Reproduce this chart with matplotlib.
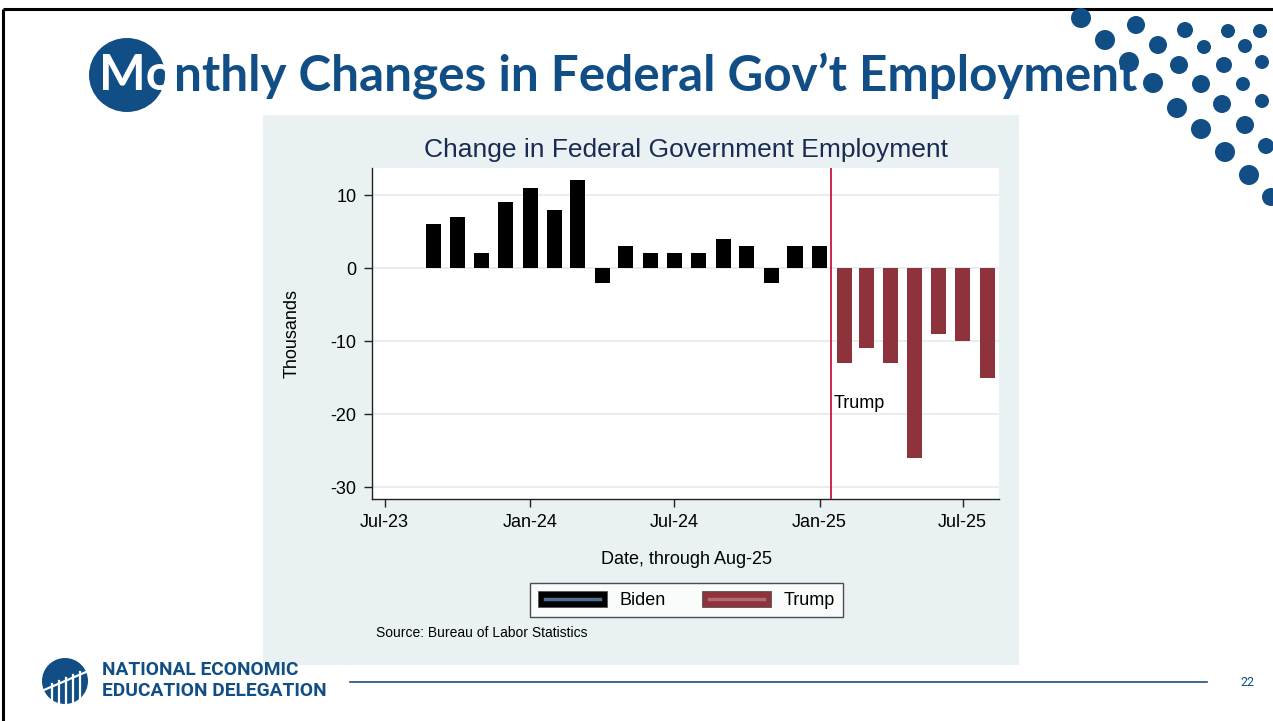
import matplotlib
matplotlib.use("Agg")
import matplotlib.pyplot as plt
from matplotlib.patches import Rectangle, Ellipse, Circle
from matplotlib.lines import Line2D
from matplotlib.legend_handler import HandlerBase
import pandas as pd

# ---- data (thousands, monthly change in federal government employment) ----
biden_months = pd.date_range("2023-09-01", "2025-01-01", freq="MS")
biden_values = [6, 7, 2, 9, 11, 8, 12, -2, 3, 2, 2, 2, 4, 3, -2, 3, 3]
trump_months = pd.date_range("2025-02-01", "2025-08-01", freq="MS")
trump_values = [-13, -11, -13, -26, -9, -10, -15]
tick_dates = pd.to_datetime(["2023-07-01", "2024-01-01", "2024-07-01",
                             "2025-01-01", "2025-07-01"])
tick_labels = ["Jul-23", "Jan-24", "Jul-24", "Jan-25", "Jul-25"]
y_ticks = [10, 0, -10, -20, -30]
inauguration = pd.Timestamp("2025-01-16")

W, H = 1273, 721
NAVY = "#124e86"
BIDEN = "#000000"
TRUMP = "#8e323c"
PANEL = "#e9f1f3"
CHART_FONT = ["Liberation Sans", "DejaVu Sans"]


def px_rect(x, y, w, h):
    return [x / W, 1 - (y + h) / H, w / W, h / H]


fig = plt.figure(figsize=(W / 100, H / 100), dpi=100)
fig.patch.set_facecolor("white")

# full-figure overlay in pixel coordinates for slide decorations
deco = fig.add_axes([0, 0, 1, 1], zorder=0)
deco.set_xlim(0, W)
deco.set_ylim(H, 0)
deco.axis("off")

# slide frame
deco.plot([3, W], [9, 9], color="black", lw=2.2, solid_capstyle="butt")
deco.plot([3, 3], [9, H], color="black", lw=2.2, solid_capstyle="butt")

# chart panel background
deco.add_patch(Rectangle((263, 115), 756, 550, facecolor=PANEL, edgecolor="none"))

# dotted corner decoration
dots = [(1081, 18, 10), (1105, 40, 10), (1136, 25, 9), (1158, 45, 9),
        (1185, 30, 8), (1204, 47, 7), (1228, 31, 7), (1245, 46, 7),
        (1260, 31, 7), (1129, 62, 10), (1153, 83, 10), (1179, 65, 9),
        (1201, 84, 9), (1224, 65, 8), (1243, 84, 7), (1262, 62, 7),
        (1177, 108, 10), (1222, 104, 9), (1262, 101, 7), (1201, 129, 10),
        (1245, 125, 9), (1225, 152, 10), (1266, 146, 8), (1249, 175, 10),
        (1271, 197, 9)]
for cx, cy, r in dots:
    deco.add_patch(Circle((cx, cy), r, facecolor=NAVY, edgecolor="none", zorder=3))

# slide title with circled initials
deco.add_patch(Ellipse((127, 75), 76, 74, facecolor=NAVY, edgecolor="none", zorder=2))
title_font = ["Lato", "DejaVu Sans"]
title_size = 35.6
t1 = deco.text(99, 76, "Mo", color="white", fontsize=title_size, fontweight="bold",
               family=title_font, va="center", ha="left", zorder=4)
fig.canvas.draw()
x_after = t1.get_window_extent().x1
x_data = deco.transData.inverted().transform((x_after, 0))[0]
deco.text(x_data, 76, "nthly Changes in Federal Gov\u2019t Employment", color=NAVY,
          fontsize=title_size, fontweight="bold", family=title_font, va="center",
          ha="left", zorder=4)

# footer: logo, organisation name, rule and page number
deco.add_patch(Circle((65, 681), 23, facecolor=NAVY, edgecolor="none"))
for i, xx in enumerate([52, 59, 66, 73, 80]):
    deco.plot([xx, xx], [684 - i * 3, 703], color="white", lw=1.6)
deco.plot([44, 86], [690, 672], color="white", lw=1.6)
foot_font = ["Roboto", "DejaVu Sans"]
deco.text(102, 670, "NATIONAL ECONOMIC", color=NAVY, fontsize=13.8,
          fontweight="bold", family=foot_font, va="center", ha="left")
deco.text(102, 691, "EDUCATION DELEGATION", color=NAVY, fontsize=13.8,
          fontweight="bold", family=foot_font, va="center", ha="left")
deco.plot([350, 1207], [682, 682], color="#1f4e79", lw=1.2)
deco.text(1247, 682, "22", color=NAVY, fontsize=9, va="center", ha="center",
          family=foot_font)

# ---- the chart ----
ax = fig.add_axes(px_rect(372, 168, 627, 331), zorder=2)
ax.set_facecolor("white")

bar_w = 19
ax.bar(biden_months, biden_values, width=bar_w, color=BIDEN, zorder=3)
ax.bar(trump_months, trump_values, width=bar_w, color=TRUMP, zorder=3)
ax.axvline(inauguration, color="#c8173c", lw=1.3, zorder=4)
ax.text(inauguration + pd.Timedelta(days=3), -18.5, "Trump", fontsize=13,
        family=CHART_FONT, va="center", ha="left", zorder=5)

ax.set_xlim(pd.Timestamp("2023-06-15"), pd.Timestamp("2025-08-16"))
ax.set_ylim(-31.6, 13.7)
ax.set_xticks(tick_dates)
ax.set_xticklabels(tick_labels)
ax.set_yticks(y_ticks)
ax.set_yticklabels([str(v) for v in y_ticks])
ax.grid(axis="y", color="#e6eef1", lw=1.4, zorder=0)
for side in ("top", "right"):
    ax.spines[side].set_visible(False)
for side in ("left", "bottom"):
    ax.spines[side].set_color("#222222")
    ax.spines[side].set_linewidth(1.0)
ax.tick_params(axis="both", direction="out", length=6, width=1.0,
               color="#222222", labelsize=13, pad=5)
for lab in ax.get_xticklabels() + ax.get_yticklabels():
    lab.set_family(CHART_FONT)
ax.set_ylabel("Thousands", fontsize=13, family=CHART_FONT, labelpad=22)

fig.text(686 / W, 1 - 150 / H, "Change in Federal Government Employment",
         color="#1b2a52", fontsize=19, family=CHART_FONT, ha="center", va="center")
fig.text(686 / W, 1 - 560 / H, "Date, through Aug-25", fontsize=13,
         family=CHART_FONT, ha="center", va="center")
fig.text(376 / W, 1 - 633 / H, "Source: Bureau of Labor Statistics", fontsize=10,
         family=CHART_FONT, ha="left", va="center")


class BarKeyHandler(HandlerBase):
    """Filled key with a thin lighter stripe through the middle."""

    def __init__(self, face, stripe):
        super().__init__()
        self.face = face
        self.stripe = stripe

    def create_artists(self, legend, orig_handle, xdescent, ydescent, width,
                       height, fontsize, trans):
        rect = Rectangle((-xdescent, -ydescent), width, height,
                         facecolor=self.face, edgecolor="#555555", lw=0.6,
                         transform=trans)
        ymid = -ydescent + height / 2
        line = Line2D([-xdescent + width * 0.1, -xdescent + width * 0.9],
                      [ymid, ymid], color=self.stripe, lw=2.5, transform=trans)
        return [rect, line]


h_biden = Rectangle((0, 0), 1, 1)
h_trump = Rectangle((0, 0), 1, 1)
leg = fig.legend([h_biden, h_trump], ["Biden", "Trump"],
                 handler_map={h_biden: BarKeyHandler(BIDEN, "#4c6e91"),
                              h_trump: BarKeyHandler(TRUMP, "#b06a70")},
                 loc="center", bbox_to_anchor=(686.5 / W, 1 - 600 / H),
                 ncol=2, frameon=True, fancybox=False,
                 handlelength=3.8, handleheight=1.0, handletextpad=0.7,
                 columnspacing=2.0, borderpad=0.45,
                 prop={"family": CHART_FONT, "size": 13})
leg.get_frame().set_edgecolor("#222222")
leg.get_frame().set_linewidth(1.0)

fig.savefig("out.png", dpi=100, facecolor="white")
